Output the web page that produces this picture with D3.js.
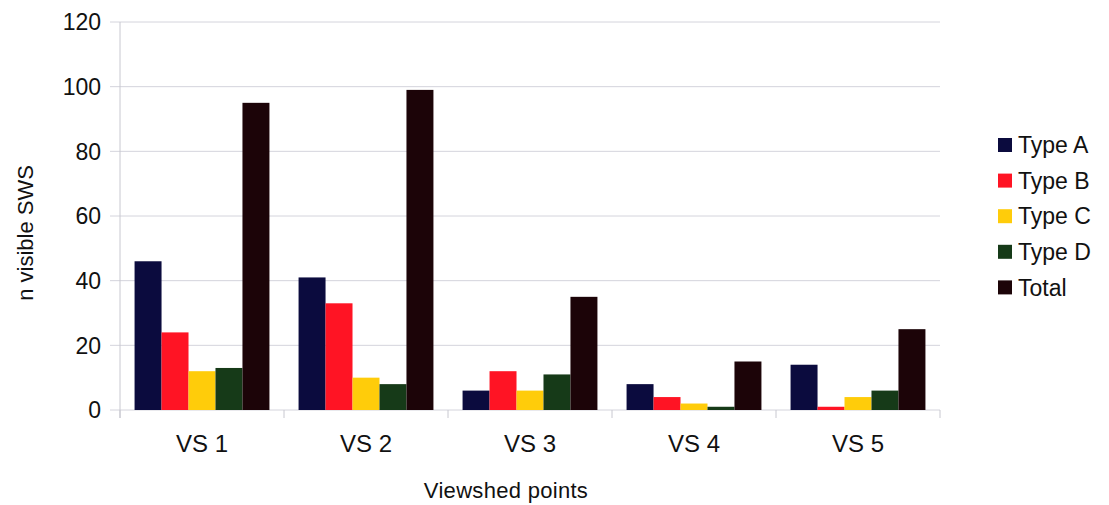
<!DOCTYPE html>
<html><head><meta charset="utf-8">
<script src="https://cdn.jsdelivr.net/npm/d3@7"></script>
<style>body{margin:0;background:#fff}svg{display:block;font-family:"Liberation Sans",Arial,sans-serif}</style>
</head><body>
<svg id="c" width="1109" height="505"></svg>
<script>
const categories = ["VS 1","VS 2","VS 3","VS 4","VS 5"];
const seriesNames = ["Type A","Type B","Type C","Type D","Total"];
const typeA = [46,41,6,8,14];
const typeB = [24,33,12,4,1];
const typeC = [12,10,6,2,4];
const typeD = [13,8,11,1,6];
const total = [95,99,35,15,25];
const yTicks = [0,20,40,60,80,100,120];
const colors = ["#0b0b3e","#ff1424","#ffcc0a","#163a18","#1c0408"];
const series = [typeA,typeB,typeC,typeD,total];

const svg = d3.select("#c");
const L=120,R=940,T=22,B=410;
const x = d3.scaleBand().domain(categories).range([L,R]).paddingInner(0).paddingOuter(0);
const x1 = d3.scaleBand().domain(seriesNames).range([0,x.bandwidth()]).paddingOuter(0.54).paddingInner(0);
const y = d3.scaleLinear().domain([0,120]).range([B,T]);

// gridlines
svg.append("g").selectAll("line").data(yTicks).join("line")
  .attr("x1",L-10).attr("x2",R).attr("y1",d=>y(d)).attr("y2",d=>y(d))
  .attr("stroke","#d4d4dc").attr("stroke-width",1);
svg.append("line").attr("x1",L).attr("x2",L).attr("y1",T).attr("y2",B+8).attr("stroke","#c8c8d0");
const bounds = categories.map(c=>x(c)).concat([R]);
svg.append("g").selectAll("line").data(bounds).join("line")
  .attr("x1",d=>d).attr("x2",d=>d).attr("y1",B).attr("y2",B+8).attr("stroke","#c8c8d0");

// y labels
svg.append("g").selectAll("text").data(yTicks).join("text")
  .attr("x",101).attr("y",d=>y(d)).attr("dy","0.36em").attr("text-anchor","end")
  .attr("font-size",23).attr("fill","#111").text(d=>d);

// bars
const g = svg.append("g");
series.forEach((vals,si)=>{
  g.append("g").selectAll("rect").data(vals).join("rect")
    .attr("x",(d,i)=>x(categories[i])+x1(seriesNames[si]))
    .attr("width",x1.bandwidth())
    .attr("y",d=>y(d)).attr("height",d=>B-y(d))
    .attr("fill",colors[si]);
});

// x labels
svg.append("g").selectAll("text").data(categories).join("text")
  .attr("x",d=>x(d)+x.bandwidth()/2).attr("y",452).attr("text-anchor","middle")
  .attr("font-size",24).attr("fill","#111").text(d=>d);

svg.append("text").attr("x",506).attr("y",498).attr("text-anchor","middle")
  .attr("font-size",22).attr("letter-spacing","0.3px").attr("fill","#111").text("Viewshed points");
svg.append("text").attr("transform","translate(33,233) rotate(-90)").attr("text-anchor","middle")
  .attr("font-size",22).attr("fill","#111").text("n visible SWS");

// legend
const lg = svg.append("g");
seriesNames.forEach((n,i)=>{
  const cy = 145 + i*35.6;
  lg.append("rect").attr("x",998).attr("y",cy-7).attr("width",14).attr("height",14).attr("fill",colors[i]);
  lg.append("text").attr("x",1018).attr("y",cy).attr("dy","0.36em").attr("font-size",23).attr("fill","#111").text(n);
});
</script>
</body></html>
